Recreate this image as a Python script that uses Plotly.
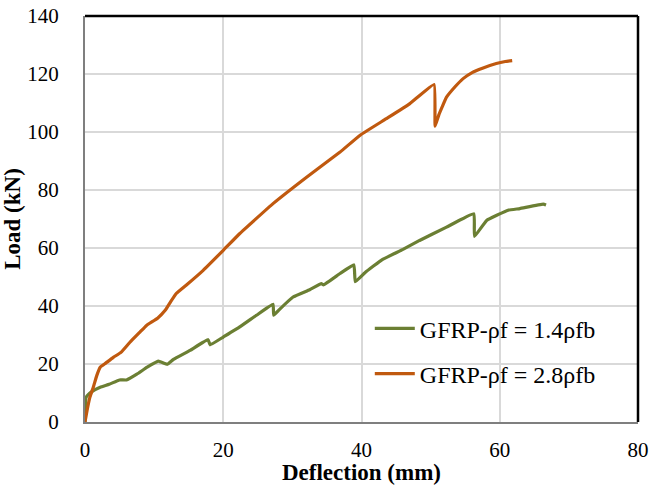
import plotly.graph_objects as go

# Data
defl_14 = [0, 0.15, 0.5, 1.0, 2.2, 3.5, 5.0, 6.0, 7.5, 9.0, 10.6, 11.9, 12.8, 15.2, 17.8, 18.1, 20.0,
           22.4, 24.8, 27.2, 27.3, 28.0, 30.1, 32.5, 34.2, 34.5, 36.9, 38.9, 39.1, 40.5, 43.0, 46.0,
           48.4, 52.3, 56.25, 56.35, 58.1, 61.2, 62.9, 66.3, 66.7]
load_14 = [0, 8.5, 9.5, 10.5, 12.0, 13.0, 14.5, 14.5, 16.5, 18.9, 21.0, 19.9, 21.6, 24.7, 28.4, 26.6, 29.3,
           32.8, 36.8, 40.6, 36.8, 38.5, 43.1, 45.6, 47.7, 47.3, 51.2, 54.2, 48.4, 51.5, 56.0, 59.5,
           62.6, 67.2, 71.8, 64.0, 69.5, 73.0, 73.6, 75.1, 74.8]

defl_28 = [0, 0.3, 0.7, 1.2, 1.7, 2.2, 3.0, 4.1, 5.2, 6.5, 7.95, 8.9, 10.5, 11.6, 12.4, 13.2, 14.8, 17.1, 20.0,
           22.4, 27.2, 32.1, 36.9, 39.8, 43.6, 47.0, 50.5, 50.65, 51.2, 52.3, 53.5, 54.7, 56.0, 57.5,
           59.5, 60.8, 61.8]
load_28 = [0, 4.0, 8.5, 12.0, 16.0, 18.9, 20.3, 22.3, 24.0, 27.5, 31.0, 33.3, 35.8, 38.5, 41.5, 44.3, 47.5, 52.3, 59.2,
           65.0, 75.3, 84.5, 93.1, 98.9, 104.6, 109.8, 116.4, 102.0, 106.0, 112.0, 115.5, 118.4, 120.5, 122.0,
           123.6, 124.3, 124.6]

series_names = ["GFRP-ρf = 1.4ρfb", "GFRP-ρf = 2.8ρfb"]
x_ticks = [0, 20, 40, 60, 80]
y_ticks = [0, 20, 40, 60, 80, 100, 120, 140]

GREEN = "#6B7F33"
ORANGE = "#C0590F"
FONT = "Liberation Serif, Times New Roman, serif"

fig = go.Figure()
fig.add_trace(go.Scatter(x=defl_14, y=load_14, mode="lines", name=series_names[0], legendgroup="a",
                         line=dict(color=GREEN, width=3.2, shape="spline", smoothing=0.3)))
fig.add_trace(go.Scatter(x=defl_28, y=load_28, mode="lines", name=series_names[1], legendgroup="b",
                         line=dict(color=ORANGE, width=3.2, shape="spline", smoothing=0.3)))

fig.update_layout(
    width=651, height=485,
    margin=dict(l=85, r=13, t=16, b=63),
    paper_bgcolor="white", plot_bgcolor="white",
    font=dict(family=FONT, size=21, color="black"),
    showlegend=True,
    legend=dict(x=0.515, y=0.285, xanchor="left", yanchor="top",
                bgcolor="rgba(0,0,0,0)", font=dict(size=24, family=FONT),
                traceorder="grouped", tracegroupgap=11, itemwidth=40),
    xaxis=dict(range=[0, 80], tickvals=x_ticks, showgrid=True, gridcolor="#D9D9D9", gridwidth=1.5,
               showline=True, linecolor="#7F7F7F", linewidth=2, zeroline=False, automargin=False,
               ticks="", ticklabelstandoff=8, tickfont=dict(size=21),
               title=dict(text="<b>Deflection (mm)</b>", standoff=3, font=dict(size=23))),
    yaxis=dict(range=[0, 140], tickvals=y_ticks, showgrid=True, gridcolor="#D9D9D9", gridwidth=1.5,
               showline=True, linecolor="#7F7F7F", linewidth=2, zeroline=False, automargin=False,
               ticks="", ticklabelstandoff=20, tickfont=dict(size=21),
               title=dict(text="<b>Load (kN)</b>", standoff=0, font=dict(size=23))),
    shapes=[
        dict(type="line", xref="paper", yref="paper", x0=0, x1=1, y0=1, y1=1,
             line=dict(color="black", width=2.5)),
        dict(type="line", xref="paper", yref="paper", x0=1, x1=1, y0=0, y1=1,
             line=dict(color="black", width=2.5)),
    ],
)

fig.write_html("out.html", config={"displayModeBar": False},
               post_script="document.body.style.margin='0';")
